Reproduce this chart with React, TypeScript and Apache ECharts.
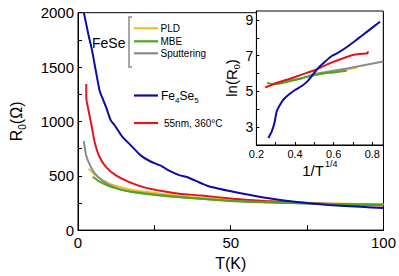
import React, { useEffect, useRef } from "react";
import * as echarts from "echarts";

// Main panel: R0 (Ohm) vs T (K)
const blueT = [1.9, 2.4, 3.4, 4.5, 6.0, 7.1, 8.2, 9.2, 10.7, 12.3, 14.4, 17.5, 20.6, 23.75, 26.9, 30, 33.1, 36.25, 42.5, 50.8, 61.25, 71.7, 82.1, 92.5, 100];
const blueR = [2000, 1935, 1800, 1667, 1440, 1280, 1200, 1131, 1012, 952, 863, 774, 685, 631, 595, 545, 506, 482, 405, 352, 298, 259, 232, 214, 203];

const redT = [2.7, 2.75, 3.44, 4.5, 5.5, 7.1, 9.2, 12.3, 16.4, 21.7, 27.9, 33.1, 40.4, 50.8, 61.25, 71.7, 82, 92, 100];
const redR = [1345, 1205, 1102, 952, 804, 670, 580, 506, 446, 393, 357, 334, 318, 289, 268, 253, 240, 232, 226];

const grayT = [1.9, 2.7, 3.96, 5.5, 8.1, 11.25, 15.4, 21.7, 30, 40.4, 50, 60, 70, 80, 90, 100];
const grayR = [819, 685, 595, 521, 453, 402, 363, 334, 308, 289, 270, 258, 250, 244, 238, 232];

const yellowT = [3.44, 5, 7.1, 11.25, 17.5, 24.8, 32, 40, 50, 60, 70, 80, 90, 100];
const yellowR = [566, 521, 477, 417, 372, 343, 318, 298, 280, 266, 256, 248, 242, 238];

const greenT = [4.8, 7.1, 11.25, 17.5, 24.8, 33.1, 40.4, 49.8, 60, 71.7, 82, 92, 100];
const greenR = [491, 446, 393, 352, 328, 304, 289, 268, 256, 247, 240, 236, 235];

// Inset: ln(R0) vs 1/T^(1/4)
const inBlueX = [0.262, 0.279, 0.293, 0.305, 0.317, 0.339, 0.365, 0.4, 0.435, 0.469, 0.495, 0.521, 0.555, 0.59, 0.624, 0.676, 0.728, 0.78, 0.84];
const inBlueY = [2.39, 2.75, 3.22, 3.87, 4.15, 4.53, 4.8, 5.08, 5.3, 5.62, 5.98, 6.32, 6.66, 6.98, 7.17, 7.54, 7.97, 8.4, 8.9];

const inRedX = [0.245, 0.296, 0.365, 0.435, 0.504, 0.573, 0.642, 0.711, 0.763, 0.775, 0.778];
const inRedY = [5.21, 5.44, 5.68, 5.94, 6.2, 6.54, 6.83, 7.06, 7.12, 7.13, 7.24];

const inGrayX = [0.3, 0.435, 0.504, 0.555, 0.676, 0.857];
const inGrayY = [5.46, 5.74, 5.98, 6.07, 6.3, 6.67];

const inGreenX = [0.256, 0.288, 0.331, 0.4, 0.486, 0.555, 0.59, 0.668];
const inGreenY = [5.49, 5.4, 5.46, 5.64, 5.87, 6.02, 6.05, 6.16];

const inYellowX = [0.5, 0.607, 0.72];
const inYellowY = [5.95, 6.14, 6.33];

const mainXTicks = [0, 50, 100];
const mainYTicks = [0, 500, 1000, 1500, 2000];
const insetXTicks = [0.2, 0.4, 0.6, 0.8];
const insetYTicks = [3, 5, 7, 9];

const BLUE = "#0d0da5";
const RED = "#e5141b";
const YELLOW = "#f2bc2c";
const GREEN = "#4fa51a";
const GRAY = "#8a8a8a";
const FONT = "Liberation Sans, Arial, sans-serif";

const zip = (xs: number[], ys: number[]) => xs.map((x, i) => [x, ys[i]]);
const near = (v: number, list: number[]) => list.some((t) => Math.abs(t - v) < 1e-6);

export default function App() {
  const ref = useRef<HTMLDivElement>(null);
  useEffect(() => {
    if (!ref.current) return;
    const chart = echarts.init(ref.current, undefined, { renderer: "svg" });
    const line = (name: string, data: number[][], color: string, xi: number) => ({
      name,
      type: "line",
      xAxisIndex: xi,
      yAxisIndex: xi,
      data,
      showSymbol: false,
      smooth: 0.2,
      clip: true,
      z: xi === 1 ? 20 : 2,
      lineStyle: { color, width: 2 },
      itemStyle: { color },
    });
    const tick = (len: number) => ({ show: true, inside: true, length: len, lineStyle: { color: "#000", width: 1 } });
    const axisLine = { show: true, onZero: false, lineStyle: { color: "#000", width: 1 } };
    const legendLine = (y: number, color: string) => ({
      type: "line",
      shape: { x1: 134, y1: y, x2: 158, y2: y },
      style: { stroke: color, lineWidth: 2.2 },
      z: 100,
    });
    const legendText = (x: number, y: number, text: string, size: number, rich?: any) => ({
      type: "text",
      x,
      y,
      style: { text, fontSize: size, fontFamily: FONT, fill: "#000", verticalAlign: "middle", rich },
      z: 100,
    });
    chart.setOption({
      animation: false,
      backgroundColor: "#fff",
      textStyle: { fontFamily: FONT, color: "#000" },
      grid: [
        { left: 64, right: 15, top: 12.7, bottom: 39.3, show: true, borderColor: "#000", borderWidth: 1, backgroundColor: "transparent" },
        { left: 256.4, right: 15.7, top: 11, bottom: 131, show: true, borderColor: "#000", borderWidth: 1, backgroundColor: "#fff" },
      ],
      xAxis: [
        {
          type: "value",
          gridIndex: 0,
          min: 0,
          max: 100,
          interval: 25,
          axisLine,
          axisTick: tick(5),
          splitLine: { show: false },
          name: "T(K)",
          nameLocation: "middle",
          nameGap: 16,
          nameTextStyle: { fontSize: 16, color: "#000", fontFamily: FONT },
          axisLabel: {
            fontSize: 15,
            color: "#000",
            margin: 5,
            formatter: (v: number) => (near(v, mainXTicks) ? String(v) : ""),
          },
          z: 30,
        },
        {
          type: "value",
          gridIndex: 1,
          min: 0.2,
          max: 0.857,
          interval: 0.1,
          axisLine,
          axisTick: tick(3),
          splitLine: { show: false },
          name: "{b|1/T}{u|1/4}",
          nameLocation: "middle",
          nameGap: 14,
          nameTextStyle: {
            color: "#000",
            rich: {
              b: { fontSize: 15, fontFamily: FONT, color: "#000", lineHeight: 18, verticalAlign: "bottom" },
              u: { fontSize: 9, fontFamily: FONT, color: "#000", lineHeight: 18, verticalAlign: "top", padding: [0, 0, 0, 1] },
            },
          },
          axisLabel: {
            fontSize: 11,
            color: "#000",
            margin: 3,
            showMaxLabel: false,
            formatter: (v: number) => (near(v, insetXTicks) ? v.toFixed(1) : ""),
          },
          z: 30,
        },
      ],
      yAxis: [
        {
          type: "value",
          gridIndex: 0,
          min: 0,
          max: 2000,
          interval: 250,
          axisLine,
          axisTick: tick(4),
          splitLine: { show: false },
          name: "{b|R}{s|0}{b|(Ω)}",
          nameLocation: "middle",
          nameGap: 51,
          nameRotate: 90,
          nameTextStyle: {
            color: "#000",
            rich: {
              b: { fontSize: 16, fontFamily: FONT, color: "#000", lineHeight: 20, verticalAlign: "bottom", padding: [0, 0, 3, 0] },
              s: { fontSize: 10, fontFamily: FONT, color: "#000", lineHeight: 20, verticalAlign: "bottom" },
            },
          },
          axisLabel: {
            fontSize: 15,
            color: "#000",
            margin: 4,
            formatter: (v: number) => (near(v, mainYTicks) ? String(v) : ""),
          },
          z: 30,
        },
        {
          type: "value",
          gridIndex: 1,
          min: 2,
          max: 9.5,
          interval: 1,
          axisLine,
          axisTick: tick(3),
          splitLine: { show: false },
          name: "{b|ln(R}{s|0}{b|)}",
          nameLocation: "middle",
          nameGap: 9,
          nameRotate: 90,
          nameTextStyle: {
            color: "#000",
            rich: {
              b: { fontSize: 15, fontFamily: FONT, color: "#000", lineHeight: 19, verticalAlign: "bottom", padding: [0, 0, 3, 0] },
              s: { fontSize: 9, fontFamily: FONT, color: "#000", lineHeight: 19, verticalAlign: "bottom" },
            },
          },
          axisLabel: {
            fontSize: 14,
            color: "#000",
            margin: 3,
            showMaxLabel: false,
            formatter: (v: number) => (near(v, insetYTicks) ? String(v) : ""),
          },
          z: 30,
        },
      ],
      series: [
        line("PLD", zip(yellowT, yellowR), YELLOW, 0),
        line("55nm, 360°C", zip(redT, redR), RED, 0),
        line("Sputtering", zip(grayT, grayR), GRAY, 0),
        line("MBE", zip(greenT, greenR), GREEN, 0),
        line("Fe4Se5", zip(blueT, blueR), BLUE, 0),
        line("PLD inset", zip(inYellowX, inYellowY), YELLOW, 1),
        line("Sputtering inset", zip(inGrayX, inGrayY), GRAY, 1),
        line("MBE inset", zip(inGreenX, inGreenY), GREEN, 1),
        line("55nm inset", zip(inRedX, inRedY), RED, 1),
        line("Fe4Se5 inset", zip(inBlueX, inBlueY), BLUE, 1),
      ],
      graphic: [
        {
          type: "polyline",
          shape: { points: [[132, 17], [129, 17], [129, 67], [132, 67]] },
          style: { stroke: GRAY, lineWidth: 1.5, fill: "none" },
          z: 100,
        },
        legendText(92, 43, "FeSe", 14),
        legendLine(28.3, YELLOW),
        legendLine(41.3, GREEN),
        legendLine(53.3, GRAY),
        legendText(160.5, 28.3, "PLD", 10),
        legendText(160.5, 41.3, "MBE", 10),
        legendText(160.5, 53.3, "Sputtering", 10),
        legendLine(95.5, BLUE),
        legendText(161, 96, "{b|Fe}{s|4}{b|Se}{s|5}", 12, {
          b: { fontSize: 12, fontFamily: FONT, fill: "#000", lineHeight: 16, verticalAlign: "bottom", padding: [0, 0, 2, 0] },
          s: { fontSize: 8, fontFamily: FONT, fill: "#000", lineHeight: 16, verticalAlign: "bottom" },
        }),
        legendLine(123, RED),
        legendText(164, 123, "55nm, 360°C", 10),
      ],
    });
    return () => chart.dispose();
  }, []);
  return <div ref={ref} style={{ position: "fixed", left: 0, top: 0, width: 399, height: 276 }} />;
}
